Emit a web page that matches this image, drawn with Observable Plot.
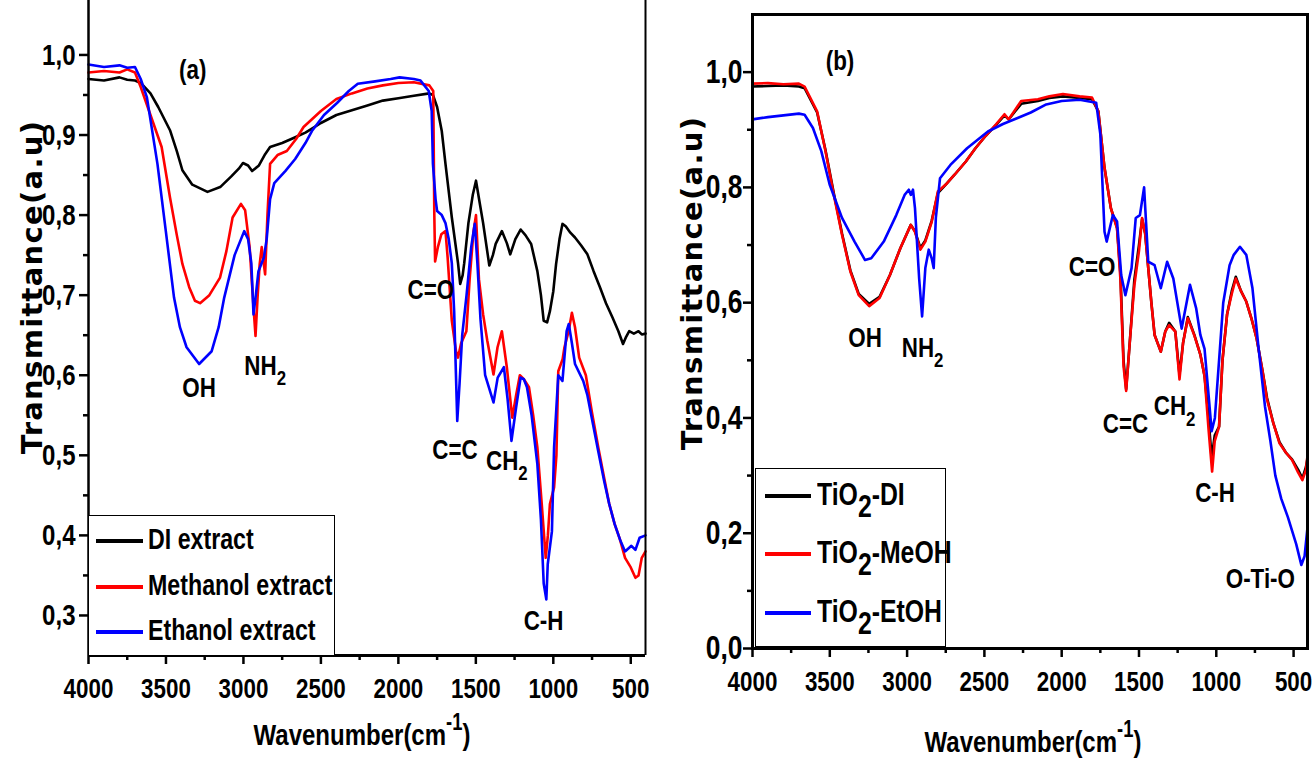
<!DOCTYPE html>
<html><head><meta charset="utf-8">
<script src="https://cdn.jsdelivr.net/npm/d3@7"></script>
<script src="https://cdn.jsdelivr.net/npm/@observablehq/plot@0.6"></script>
<style>
html,body{margin:0;padding:0;background:#fff;}
#root{position:relative;width:1313px;height:760px;overflow:hidden;background:#fff;}
.nar{font-family:"Liberation Sans",Arial,sans-serif;font-weight:bold;color:#000;}
.panel{position:absolute;top:0;}
.ytitle{position:absolute;font-family:"DejaVu Sans",Verdana,sans-serif;font-weight:bold;font-size:29px;letter-spacing:1.3px;white-space:nowrap;line-height:1;transform:translate(-50%,-50%) rotate(-90deg);}
.xtitle{position:absolute;font-size:30px;white-space:nowrap;line-height:1;transform:translateX(-50%) scaleX(0.8);}
.xtitle .sup{font-size:23px;position:relative;top:-15px;}
.legend{position:absolute;border:1.5px solid #000;background:#fff;box-sizing:border-box;}
.sw{position:absolute;height:4px;}
.lt{position:absolute;white-space:nowrap;transform-origin:0 50%;transform:scaleX(0.8);}
.lt .sb{position:relative;top:12px;}
</style></head>
<body><div id="root"></div>
<script>
// ---------- Panel (a) data: wavenumber (cm-1) and transmittance ----------
const aDI_wn = [4000,3900,3800,3750,3700,3663,3600,3550,3474,3430,3394,3330,3232,3150,3080,3030,3003,2970,2944,2900,2860,2828,2750,2680,2600,2550,2500,2400,2300,2200,2100,2000,1900,1800,1777,1750,1720,1696,1655,1615,1601,1585,1575,1548,1520,1499,1475,1453,1413,1390,1372,1332,1300,1278,1245,1211,1180,1143,1103,1080,1062,1040,1022,1000,982,960,941,920,890,860,820,780,740,699,660,618,580,550,530,510,480,450,429,405];
const aDI_t  = [0.970,0.968,0.972,0.969,0.968,0.965,0.952,0.935,0.906,0.880,0.856,0.838,0.829,0.835,0.848,0.858,0.865,0.862,0.855,0.862,0.876,0.885,0.890,0.896,0.903,0.909,0.915,0.925,0.931,0.937,0.943,0.946,0.949,0.952,0.950,0.935,0.905,0.864,0.797,0.740,0.714,0.725,0.740,0.790,0.825,0.843,0.815,0.790,0.737,0.750,0.764,0.780,0.765,0.751,0.770,0.782,0.775,0.764,0.730,0.700,0.668,0.666,0.680,0.705,0.739,0.770,0.789,0.786,0.778,0.772,0.762,0.751,0.730,0.710,0.690,0.672,0.655,0.639,0.648,0.655,0.652,0.655,0.651,0.652];

const aMeOH_wn = [4000,3900,3800,3750,3700,3663,3600,3528,3474,3430,3394,3350,3313,3280,3220,3151,3110,3070,3016,2989,2960,2935,2922,2908,2895,2882,2860,2845,2828,2780,2720,2660,2612,2500,2400,2300,2200,2100,2000,1900,1800,1775,1768,1763,1745,1723,1696,1682,1655,1628,1615,1595,1561,1540,1515,1499,1480,1453,1426,1386,1360,1332,1300,1265,1240,1216,1190,1157,1130,1103,1075,1049,1035,1022,995,980,968,940,928,901,880,860,833,790,752,710,672,640,604,570,537,500,470,450,429,405];
const aMeOH_t  = [0.978,0.980,0.978,0.982,0.978,0.960,0.925,0.885,0.822,0.775,0.739,0.710,0.693,0.690,0.700,0.722,0.755,0.797,0.814,0.806,0.760,0.685,0.649,0.700,0.739,0.760,0.726,0.800,0.864,0.875,0.880,0.895,0.910,0.930,0.945,0.952,0.958,0.962,0.965,0.966,0.962,0.955,0.800,0.742,0.760,0.776,0.780,0.747,0.668,0.630,0.622,0.640,0.655,0.720,0.780,0.800,0.720,0.676,0.643,0.601,0.635,0.655,0.610,0.547,0.575,0.600,0.595,0.585,0.550,0.510,0.440,0.372,0.400,0.439,0.460,0.500,0.605,0.620,0.635,0.655,0.678,0.660,0.622,0.600,0.555,0.510,0.472,0.440,0.414,0.395,0.372,0.360,0.347,0.350,0.372,0.380];

const aEtOH_wn = [4000,3900,3800,3750,3700,3663,3623,3555,3501,3448,3410,3367,3286,3205,3160,3124,3057,2995,2970,2949,2935,2920,2903,2868,2850,2828,2801,2730,2666,2600,2558,2480,2396,2320,2262,2150,2050,1992,1900,1857,1804,1785,1777,1760,1750,1720,1696,1675,1655,1640,1620,1605,1588,1560,1530,1507,1490,1470,1440,1386,1359,1319,1295,1270,1240,1211,1190,1170,1140,1103,1080,1062,1045,1036,1009,995,968,941,914,900,880,860,807,780,752,710,672,640,604,570,537,496,470,443,405];
const aEtOH_t  = [0.988,0.985,0.987,0.984,0.985,0.970,0.947,0.864,0.780,0.697,0.660,0.635,0.614,0.630,0.660,0.697,0.750,0.780,0.770,0.740,0.676,0.700,0.730,0.747,0.770,0.820,0.840,0.855,0.870,0.890,0.905,0.925,0.940,0.955,0.964,0.967,0.970,0.972,0.970,0.968,0.955,0.930,0.864,0.820,0.805,0.800,0.790,0.770,0.740,0.680,0.543,0.590,0.650,0.700,0.760,0.789,0.740,0.670,0.600,0.566,0.597,0.610,0.570,0.518,0.560,0.597,0.595,0.585,0.550,0.489,0.420,0.340,0.320,0.364,0.405,0.510,0.600,0.593,0.655,0.664,0.640,0.614,0.593,0.575,0.547,0.505,0.468,0.440,0.414,0.395,0.380,0.387,0.382,0.397,0.400];

// ---------- Panel (b) data ----------
const bDI_wn = [4000,3900,3800,3700,3663,3582,3528,3474,3421,3367,3313,3245,3178,3111,3043,2976,2949,2914,2882,2841,2801,2750,2693,2620,2558,2490,2423,2370,2343,2262,2154,2080,1992,1884,1804,1763,1723,1682,1642,1620,1600,1583,1560,1530,1500,1480,1460,1440,1420,1399,1359,1330,1305,1265,1238,1215,1184,1143,1103,1076,1050,1030,1010,982,960,930,900,874,840,806,770,739,700,672,630,591,550,510,470,443,420,410];
const bDI_t  = [0.975,0.976,0.977,0.975,0.972,0.930,0.865,0.790,0.720,0.656,0.615,0.598,0.610,0.648,0.695,0.735,0.724,0.695,0.708,0.742,0.790,0.805,0.822,0.845,0.868,0.890,0.909,0.925,0.918,0.945,0.950,0.955,0.958,0.955,0.953,0.932,0.834,0.764,0.730,0.650,0.500,0.450,0.530,0.640,0.700,0.745,0.720,0.660,0.600,0.544,0.515,0.550,0.565,0.550,0.475,0.530,0.575,0.545,0.510,0.473,0.400,0.330,0.370,0.385,0.500,0.580,0.620,0.645,0.620,0.602,0.570,0.538,0.480,0.435,0.390,0.358,0.340,0.328,0.310,0.295,0.315,0.330];

const bMeOH_wn = [4000,3900,3800,3700,3663,3582,3528,3474,3421,3367,3313,3245,3178,3111,3043,2976,2949,2914,2882,2841,2801,2750,2693,2620,2558,2490,2423,2370,2343,2262,2154,2080,1992,1884,1804,1763,1723,1682,1642,1620,1600,1583,1560,1530,1500,1480,1460,1440,1420,1399,1359,1330,1305,1265,1238,1215,1184,1143,1103,1076,1050,1027,1010,982,960,930,900,874,840,806,770,739,700,672,630,591,550,510,470,443,420,410];
const bMeOH_t  = [0.980,0.981,0.979,0.980,0.975,0.932,0.863,0.787,0.718,0.654,0.613,0.594,0.608,0.648,0.695,0.735,0.723,0.692,0.706,0.740,0.793,0.805,0.822,0.845,0.868,0.890,0.910,0.927,0.918,0.950,0.953,0.958,0.962,0.958,0.956,0.932,0.834,0.764,0.729,0.640,0.490,0.447,0.530,0.630,0.690,0.747,0.720,0.660,0.600,0.544,0.515,0.550,0.561,0.550,0.467,0.530,0.573,0.544,0.510,0.473,0.380,0.307,0.360,0.385,0.500,0.580,0.615,0.642,0.620,0.602,0.570,0.538,0.480,0.432,0.390,0.356,0.340,0.327,0.305,0.292,0.310,0.335];

const bEtOH_wn = [4000,3900,3800,3700,3663,3609,3555,3501,3421,3340,3272,3232,3151,3070,3016,2989,2976,2962,2949,2922,2903,2882,2860,2841,2828,2814,2787,2720,2612,2477,2380,2289,2200,2100,2000,1884,1777,1750,1723,1709,1669,1642,1615,1588,1548,1521,1494,1467,1440,1399,1359,1318,1278,1224,1170,1130,1103,1076,1050,1030,1009,982,955,914,887,847,806,766,726,685,650,618,580,537,483,450,429,410];
const bEtOH_t  = [0.918,0.922,0.925,0.928,0.926,0.903,0.863,0.805,0.747,0.706,0.674,0.677,0.706,0.752,0.787,0.796,0.787,0.796,0.764,0.642,0.576,0.660,0.692,0.677,0.660,0.747,0.816,0.839,0.868,0.897,0.910,0.920,0.930,0.944,0.950,0.952,0.947,0.892,0.723,0.706,0.752,0.741,0.648,0.613,0.660,0.747,0.752,0.800,0.671,0.665,0.625,0.671,0.642,0.555,0.631,0.590,0.544,0.520,0.440,0.377,0.400,0.500,0.600,0.665,0.683,0.697,0.683,0.625,0.520,0.420,0.360,0.300,0.260,0.228,0.181,0.145,0.160,0.210];

// ---------- Ticks ----------
const xMajor = [4000,3500,3000,2500,2000,1500,1000,500];
const xMinor = [3750,3250,2750,2250,1750,1250,750];
const yMajorA = [0.3,0.4,0.5,0.6,0.7,0.8,0.9,1.0];
const yMinorA = [0.35,0.45,0.55,0.65,0.75,0.85,0.95];
const yMajorB = [0.0,0.2,0.4,0.6,0.8,1.0];
const yMinorB = [0.1,0.3,0.5,0.7,0.9];

// ---------- Labels ----------
const seriesA = ["DI extract","Methanol extract","Ethanol extract"];
const seriesB = ["TiO|2|-DI","TiO|2|-MeOH","TiO|2|-EtOH"];
const colors = ["#000000","#ff0000","#0000ff"];
const yTitle = "Transmittance(a.u)";
const xTitle = "Wavenumber(cm";
const xTitleSup = "-1";

// band annotations [label, subscript, wavenumber, transmittance]
const annA = [["(a)","",3327,0.981],["OH","",3286,0.584],["NH","2",2860,0.612],["C=O","",1790,0.706],["C=C","",1635,0.506],["CH","2",1300,0.493],["C-H","",1063,0.293]];
const annB = [["(b)","",3434,1.02],["OH","",3272,0.539],["NH","2",2900,0.522],["C=O","",1803,0.661],["C=C","",1587,0.389],["CH","2",1270,0.42],["C-H","",1008,0.27],["O-Ti-O","",715,0.12]];

const FONT = "'Liberation Sans',Arial,sans-serif";
const SQUEEZE = 0.8;
const zip = (w, t) => w.map((x, i) => ({w: x, t: t[i]}));
const comma = d => d.toFixed(1).replace(".", ",");
const annRows = a => a.map(([label, sub, w, t]) => ({label, sub, w, t}));

function panel({width, height, mL, mR, mT, mB, xDom, yDom, series, yMaj, yMin, yFont, yPad, ann, full}) {
  const marks = [];
  series.forEach((s, i) => marks.push(Plot.line(s, {x: "w", y: "t", stroke: colors[i], strokeWidth: 2.6})));
  if (full) {
    marks.push(Plot.frame({strokeWidth: 3}));
  } else {
    marks.push(Plot.ruleX([xDom[0]], {strokeWidth: 2.5}));
    marks.push(Plot.ruleX([xDom[1]], {strokeWidth: 2}));
    marks.push(Plot.ruleY([yDom[0]], {strokeWidth: 3}));
  }
  marks.push(
    Plot.axisY({ticks: yMaj, tickSize: 9, tickPadding: yPad, tickFormat: comma, strokeWidth: 2.5, fontSize: yFont, label: null}),
    Plot.axisY({ticks: yMin, tickSize: 5, tickFormat: () => "", strokeWidth: 2.5, label: null}),
    Plot.axisX({ticks: xMajor, tickSize: 9, tickPadding: 14, tickFormat: d => String(d), strokeWidth: 2.5, fontSize: 28, label: null}),
    Plot.axisX({ticks: xMinor, tickSize: 5, tickFormat: () => "", strokeWidth: 2.5, label: null}),
    Plot.text(ann, {x: "w", y: "t", text: "label", fontSize: 28, textAnchor: "middle", lineAnchor: "middle", fill: "#000"})
  );
  const svg = Plot.plot({
    width, height, marginLeft: mL, marginRight: mR, marginTop: mT, marginBottom: mB,
    x: {domain: xDom, label: null}, y: {domain: yDom, label: null},
    style: {fontFamily: FONT, fontWeight: "bold", fontSize: "27px", color: "#000", background: "transparent", overflow: "visible"},
    marks
  });
  // chemical subscripts as tspans inside the band labels
  const texts = svg.querySelectorAll('g[aria-label="text"] text');
  texts.forEach((t, i) => {
    const d = ann[i];
    if (d && d.sub) {
      const ts = document.createElementNS("http://www.w3.org/2000/svg", "tspan");
      ts.setAttribute("dy", "0.5em");
      ts.setAttribute("font-size", "21");
      ts.textContent = d.sub;
      t.appendChild(ts);
    }
  });
  return svg;
}

// horizontally condense SVG texts (narrow-font look)
function condense(svg) {
  svg.querySelectorAll("text").forEach(t => {
    const L = t.getComputedTextLength();
    if (L > 0) {
      t.setAttribute("textLength", (L * SQUEEZE).toFixed(2));
      t.setAttribute("lengthAdjust", "spacingAndGlyphs");
    }
  });
}

const root = document.getElementById("root");

const A = panel({width: 660, height: 760, mL: 88, mR: 15, mT: 0, mB: 105, xDom: [4000, 405], yDom: [0.25, 1.068],
  series: [zip(aDI_wn, aDI_t), zip(aMeOH_wn, aMeOH_t), zip(aEtOH_wn, aEtOH_t)],
  yMaj: yMajorA, yMin: yMinorA, yFont: 30, yPad: 4, ann: annRows(annA), full: false});
A.classList.add("panel"); A.style.left = "0px";
root.appendChild(A); condense(A);

const B = panel({width: 653, height: 760, mL: 92, mR: 6, mT: 14, mB: 112, xDom: [4000, 410], yDom: [0, 1.1],
  series: [zip(bDI_wn, bDI_t), zip(bMeOH_wn, bMeOH_t), zip(bEtOH_wn, bEtOH_t)],
  yMaj: yMajorB, yMin: yMinorB, yFont: 33, yPad: 1, ann: annRows(annB), full: true});
B.classList.add("panel"); B.style.left = "660px";
root.appendChild(B); condense(B);

// axis titles
function addYTitle(cx, cy) {
  const d = document.createElement("div");
  d.className = "ytitle"; d.textContent = yTitle;
  d.style.left = cx + "px"; d.style.top = cy + "px";
  root.appendChild(d);
}
function addXTitle(cx, top) {
  const d = document.createElement("div");
  d.className = "xtitle nar";
  d.style.left = cx + "px"; d.style.top = top + "px";
  const m = document.createElement("span"); m.textContent = xTitle;
  const s = document.createElement("span"); s.className = "sup"; s.textContent = xTitleSup;
  const c = document.createElement("span"); c.textContent = ")";
  d.append(m, s, c);
  root.appendChild(d);
}
addYTitle(32, 287); addYTitle(692, 283);
addXTitle(362, 720); addXTitle(1033, 727);

// legends
function addLegend(left, top, w, h, names, rowsY, swL, swR, textL, fs) {
  const box = document.createElement("div");
  box.className = "legend nar";
  Object.assign(box.style, {left: left + "px", top: top + "px", width: w + "px", height: h + "px"});
  names.forEach((name, i) => {
    const sw = document.createElement("div");
    sw.className = "sw";
    Object.assign(sw.style, {left: swL + "px", width: (swR - swL) + "px", top: (rowsY[i] - 2) + "px", background: colors[i]});
    const t = document.createElement("div");
    t.className = "lt";
    Object.assign(t.style, {left: textL + "px", top: (rowsY[i] - fs * 0.55) + "px", fontSize: fs + "px", lineHeight: "1"});
    name.split("|").forEach((p, k) => {
      const sp = document.createElement("span"); sp.textContent = p;
      if (k === 1) sp.className = "sb";
      t.appendChild(sp);
    });
    box.append(sw, t);
  });
  root.appendChild(box);
}
addLegend(88, 515, 247, 141, seriesA, [25, 71, 116], 7, 54, 59, 29);
addLegend(755, 468, 191, 179, seriesB, [27, 85, 144], 9, 55, 61, 31);
</script>
</body></html>
